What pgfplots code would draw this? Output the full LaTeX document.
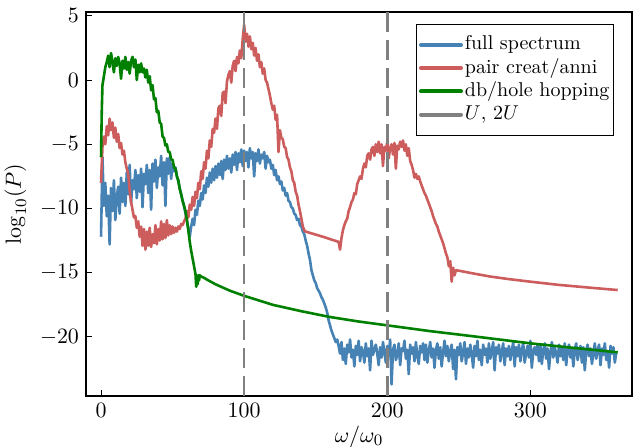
\documentclass[border=0pt]{standalone}
\usepackage{pgfplots}
\pgfplotsset{compat=1.18}

\definecolor{cfull}{RGB}{70,130,180}
\definecolor{cpair}{RGB}{205,92,92}
\definecolor{chop}{RGB}{0,128,0}
\definecolor{cU}{RGB}{128,128,128}

\begin{document}
\begin{tikzpicture}
\begin{axis}[
    scale only axis,
    width=273pt, height=192pt,
    xmin=-10.5, xmax=371,
    ymin=-24.6, ymax=5.3,
    xtick={0,100,200,300},
    ytick={-20,-15,-10,-5,0,5},
    tick align=inside,
    tick pos=left,
    major tick length=3pt,
    tick style={black, line width=0.5pt},
    axis line style={line width=0.6pt},
    xlabel={$\omega/\omega_0$},
    ylabel={$\log_{10}(P)$},
    xlabel style={yshift=2.5pt},
    ticklabel style={font=\fontsize{11}{13}\selectfont},
    label style={font=\fontsize{11}{13}\selectfont},
    legend cell align=left,
    legend style={at={(0.967,0.969)}, anchor=north east, draw=black,
        line width=0.5pt, inner xsep=1pt, inner ysep=4.5pt,
        nodes={inner sep=1pt, text height=7.3pt, text depth=2.3pt},
        font=\normalsize},
    legend image code/.code={\draw[#1, solid, line width=2pt, line cap=round] (0pt,0pt) -- (20pt,0pt);},
    every axis plot/.append style={line join=round},
]

% full spectrum
\addplot[cfull, line width=1.3pt] coordinates {
(0,-12.2)(1,-6.0)(2,-9.8)(3,-8.0)(4,-10.6)(5,-9.0)(6,-12.8)(7,-8.4)(8,-10.2)(9,-7.8)
(10,-10.9)(11,-9.1)(12,-8.3)(13,-10.4)(14,-7.6)(15,-9.5)(16,-8.0)(17,-9.8)(18,-7.2)(19,-8.9)
(20,-6.6)(21,-9.6)(22,-7.8)(23,-8.5)(24,-7.0)(25,-9.2)(26,-7.4)(27,-8.7)(28,-6.9)(29,-9.9)
(30,-7.3)(31,-8.1)(32,-6.6)(33,-8.8)(34,-7.0)(35,-10.1)(36,-6.5)(37,-7.9)(38,-6.2)(39,-8.4)
(40,-6.8)(41,-7.5)(42,-5.9)(43,-8.2)(44,-6.4)(45,-9.8)(46,-6.1)(47,-7.3)(48,-6.0)(49,-7.7)
(50,-6.5)(51,-7.1)(52,-6.8)(53,-7.5)(54,-7.9)(55,-8.4)(56,-8.9)(57,-9.4)(58,-9.8)(59,-10.4)
(60,-10.9)(61,-11.6)(62,-12.2)(63,-11.4)(64,-10.8)(65,-11.3)(66,-10.1)(67,-10.5)(68,-9.4)(69,-9.8)
(70,-8.8)(71,-9.3)(72,-8.2)(73,-8.8)(74,-7.6)(75,-8.3)(76,-7.2)(77,-8.0)(78,-6.9)(79,-7.8)
(80,-6.7)(81,-7.6)(82,-6.5)(83,-7.4)(84,-6.3)(85,-7.7)(86,-6.2)(87,-7.0)(88,-5.9)(89,-6.9)
(90,-6.1)(91,-7.2)(92,-5.8)(93,-6.6)(94,-5.6)(95,-7.0)(96,-5.7)(97,-6.4)(98,-5.4)(99,-6.7)
(100,-5.5)(101,-6.3)(102,-5.6)(103,-6.8)(104,-5.3)(105,-6.1)(106,-5.6)(107,-7.5)(108,-5.7)(109,-6.3)
(110,-5.4)(111,-6.5)(112,-5.8)(113,-6.1)(114,-5.6)(115,-6.9)(116,-5.9)(117,-6.4)(118,-6.2)(119,-6.9)
(120,-6.6)(121,-7.4)(122,-7.0)(123,-7.8)(124,-7.5)(125,-8.1)(126,-7.9)(127,-8.6)(128,-8.4)(129,-9.0)
(130,-8.8)(131,-9.4)(132,-9.5)(133,-9.9)(134,-10.0)(135,-10.4)(136,-10.5)(137,-10.9)(138,-10.8)(139,-11.3)
(140,-11.4)(141,-11.8)(142,-12.0)(143,-12.5)(144,-12.9)(145,-13.5)(146,-14.0)(147,-14.8)(148,-15.2)(149,-15.6)
(150,-15.8)(151,-16.2)(152,-16.4)(153,-16.6)(154,-16.9)(155,-17.1)(156,-17.4)(157,-17.7)(158,-18.1)(159,-18.7)
(160,-19.1)(161,-19.5)(162,-19.8)(163,-20.1)(164,-20.4)(165,-20.2)(166,-20.7)
(167,-21.3)(168,-20.4)(169,-21.8)(170,-20.9)(171,-22.1)(172,-20.6)(173,-21.2)(174,-20.2)(175,-21.6)(176,-21.0)
(177,-22.3)(178,-20.7)(179,-21.4)(180,-20.3)(181,-21.9)(182,-20.8)(183,-21.1)(184,-22.0)(185,-20.5)(186,-21.5)
(187,-20.9)(188,-22.6)(189,-20.3)(190,-21.4)(191,-21.0)(192,-20.6)(193,-21.3)(194,-22.2)(195,-20.8)(196,-21.6)
(197,-20.4)(198,-21.2)(199,-22.0)(200,-20.7)(201,-21.5)(202,-20.2)(203,-23.7)(204,-21.0)(205,-20.6)(206,-21.8)
(207,-21.4)(208,-20.5)(209,-22.2)(210,-20.9)(211,-21.1)(212,-20.3)(213,-21.7)(214,-21.0)(215,-22.9)(216,-20.6)
(217,-21.3)(218,-20.8)(219,-21.9)(220,-20.4)(221,-21.5)(222,-22.1)(223,-20.7)(224,-21.2)(225,-20.5)(226,-21.8)
(227,-20.6)(228,-22.0)(229,-21.1)(230,-20.4)(231,-21.6)(232,-20.9)(233,-22.4)(234,-21.0)(235,-20.5)(236,-21.7)
(237,-20.8)(238,-22.3)(239,-21.2)(240,-20.3)(241,-21.5)(242,-20.7)(243,-21.9)(244,-21.1)(245,-20.6)(246,-22.5)
(247,-21.0)(248,-23.3)(249,-20.8)(250,-21.4)(251,-20.5)(252,-21.9)(253,-21.2)(254,-20.4)(255,-22.1)(256,-20.9)
(257,-21.6)(258,-20.6)(259,-21.3)(260,-22.4)(261,-20.7)(262,-21.5)(263,-20.3)(264,-21.8)(265,-21.0)(266,-22.2)
(267,-20.6)(268,-21.4)(269,-20.9)(270,-22.0)(271,-20.5)(272,-21.7)(273,-21.1)(274,-20.4)(275,-22.6)(276,-20.8)
(277,-21.3)(278,-20.6)(279,-21.9)(280,-21.2)(281,-20.5)(282,-22.2)(283,-20.9)(284,-21.5)(285,-20.7)(286,-21.8)
(287,-21.1)(288,-20.4)(289,-22.3)(290,-20.8)(291,-21.5)(292,-20.6)(293,-21.9)(294,-21.0)(295,-20.5)(296,-22.0)
(297,-21.3)(298,-20.7)(299,-21.6)(300,-20.3)(301,-22.4)(302,-21.1)(303,-20.8)(304,-21.4)(305,-20.6)(306,-21.9)
(307,-20.7)(308,-22.1)(309,-21.0)(310,-20.5)(311,-21.7)(312,-20.9)(313,-22.5)(314,-21.2)(315,-20.4)(316,-21.6)
(317,-20.8)(318,-21.3)(319,-22.0)(320,-20.6)(321,-21.5)(322,-20.9)(323,-21.8)(324,-20.5)(325,-22.2)(326,-21.1)
(327,-20.6)(328,-21.6)(329,-20.9)(330,-22.3)(331,-21.0)(332,-20.5)(333,-21.8)(334,-21.2)(335,-20.7)(336,-22.0)
(337,-20.8)(338,-22.6)(339,-21.1)(340,-20.6)(341,-21.5)(342,-20.9)(343,-22.1)(344,-21.3)(345,-20.5)(346,-21.7)
(347,-21.0)(348,-20.6)(349,-22.2)(350,-20.9)(351,-21.4)(352,-20.5)(353,-21.8)(354,-21.1)(355,-22.4)(356,-20.7)
(357,-21.3)(358,-20.8)(359,-22.0)(360,-21.2)
};
\addlegendentry{full spectrum}

% pair creation / annihilation
\addplot[cpair, line width=1.3pt] coordinates {
(0,-8.0)(1,-5.2)(2,-4.4)(3,-5.0)(4,-3.6)(5,-4.3)(6,-3.0)(7,-3.9)(8,-3.3)(9,-4.5)
(10,-3.7)(11,-4.8)(12,-4.2)(13,-5.3)(14,-4.9)(15,-5.8)(16,-5.5)(17,-6.4)(18,-6.9)(19,-7.3)
(20,-8.6)(21,-9.5)(22,-10.1)(23,-10.7)(24,-10.6)(25,-11.5)(26,-11.0)(27,-12.2)(28,-11.4)(29,-12.9)
(30,-11.6)(31,-13.2)(32,-11.8)(33,-12.9)(34,-11.5)(35,-13.0)(36,-12.0)(37,-12.7)(38,-11.3)(39,-12.8)
(40,-11.6)(41,-12.5)(42,-11.0)(43,-12.4)(44,-11.2)(45,-12.3)(46,-10.9)(47,-12.1)(48,-11.3)(49,-12.0)
(50,-11.4)(51,-11.9)(52,-11.5)(53,-11.8)(54,-11.4)(55,-11.6)(56,-11.2)(57,-11.3)(58,-11.0)(59,-10.8)
(60,-10.2)(61,-10.7)(62,-9.7)(63,-10.1)(64,-9.1)(65,-9.8)(66,-8.7)(67,-9.2)(68,-8.0)(69,-8.5)
(70,-7.1)(71,-7.7)(72,-6.4)(73,-6.9)(74,-5.5)(75,-6.1)(76,-4.7)(77,-5.2)(78,-3.8)(79,-4.1)
(80,-3.0)(81,-3.8)(82,-2.2)(83,-2.0)(84,-2.8)(85,-1.0)(86,-0.9)(87,-1.8)(88,-0.1)(89,0.4)
(90,0.7)(91,-0.2)(92,1.1)(93,1.5)(94,0.7)(95,1.8)(96,1.3)(97,2.3)(98,1.7)(99,3.2)
(100,4.3)(101,3.0)(102,3.6)(103,2.6)(104,3.4)(105,2.4)(106,2.9)(107,1.9)(108,2.5)(109,1.5)
(110,2.0)(111,1.0)(112,1.4)(113,0.5)(114,0.9)(115,0.0)(116,-0.2)(117,-0.7)(118,-1.2)(119,-1.8)
(120,-2.3)(121,-2.0)(122,-3.1)(123,-2.7)(124,-5.6)(125,-3.9)(126,-4.5)(127,-4.6)(128,-5.2)(129,-5.3)
(130,-6.0)(131,-6.2)(132,-6.8)(133,-7.1)(134,-7.8)(135,-8.0)(136,-8.7)(137,-9.0)(138,-9.7)(139,-10.2)
(140,-10.8)(141,-11.4)(142,-11.7)(143,-11.8)(155,-12.2)(166,-12.6)(167,-13.2)(168,-12.3)(169,-11.7)
(170,-11.3)(171,-11.0)(172,-10.8)(173,-10.2)(174,-9.9)(175,-9.5)(176,-9.3)(177,-8.8)(178,-8.9)(179,-8.1)
(180,-7.8)(181,-7.5)(182,-7.7)(183,-6.9)(184,-6.5)(185,-6.8)(186,-5.9)(187,-5.7)(188,-6.2)(189,-5.4)
(190,-5.2)(191,-5.9)(192,-5.0)(193,-5.6)(194,-4.8)(195,-5.7)(196,-5.0)(197,-6.7)(198,-5.2)(199,-5.5)
(200,-4.8)(201,-6.1)(202,-5.3)(203,-5.0)(204,-5.8)(205,-4.9)(206,-6.9)(207,-5.1)(208,-5.4)(209,-4.8)
(210,-5.2)(211,-4.7)(212,-5.5)(213,-5.0)(214,-5.9)(215,-5.3)(216,-6.3)(217,-6.6)(218,-7.0)(219,-7.6)
(220,-7.3)(221,-7.7)(222,-7.5)(223,-7.9)(224,-8.2)(225,-8.5)(226,-8.8)(227,-9.0)(228,-9.3)(229,-9.6)
(230,-9.9)(231,-10.2)(232,-10.6)(233,-10.9)(234,-11.2)(235,-11.4)(236,-11.8)(237,-12.1)(238,-12.4)(239,-12.7)
(240,-13.1)(241,-13.5)(242,-13.8)(243,-14.5)(244,-14.1)(245,-15.7)(246,-14.6)(247,-15.2)(248,-14.8)
(255,-14.95)(262,-15.1)(272,-15.3)(285,-15.5)(300,-15.7)(320,-15.95)(340,-16.15)(361,-16.35)
};
\addlegendentry{pair creat/anni}

% doublon / hole hopping
\addplot[chop, line width=1.3pt] coordinates {
(0,-6.0)(0.5,-2.5)(1,-0.4)(2,0.3)(3,1.0)(4,1.4)(5,1.9)(6,1.0)(7,2.1)(8,1.4)(9,0.6)
(10,1.7)(11,1.1)(12,1.8)(13,1.3)(14,0.1)(15,1.5)(16,0.9)(17,1.8)(18,0.8)(19,1.4)
(20,0.5)(21,1.5)(22,1.8)(23,1.0)(24,1.6)(25,0.0)(26,1.2)(27,0.6)(28,1.3)(29,0.6)
(30,0.9)(31,0.2)(32,0.8)(33,-0.2)(34,0.3)(35,-0.8)(36,-0.4)(37,-1.5)(38,-1.4)(39,-2.5)
(40,-2.4)(41,-3.3)(42,-3.4)(43,-4.4)(44,-4.5)(45,-5.1)(46,-5.0)(47,-5.6)(48,-5.6)(49,-6.2)
(50,-6.2)(51,-6.8)(52,-6.9)(53,-7.5)(54,-7.8)(55,-8.5)(56,-8.9)(57,-9.4)(58,-9.8)(59,-10.2)
(60,-10.9)(61,-11.7)(62,-12.6)(63,-13.3)(64,-13.9)(65,-14.5)(66,-15.1)(66.5,-16.1)(67,-15.2)
(67.5,-15.9)(68,-15.2)(68.5,-15.6)(69,-15.2)(70,-15.3)(72,-15.4)(75,-15.6)(80,-15.9)(90,-16.4)
(100,-16.8)(120,-17.5)(140,-18.0)(160,-18.45)(180,-18.8)(200,-19.1)(230,-19.55)(260,-19.95)
(300,-20.5)(330,-20.85)(361,-21.2)
};
\addlegendentry{db/hole hopping}

% U and 2U
\addplot[cU, line width=1.3pt, dash pattern=on 10pt off 4pt] coordinates {(100,-24.6)(100,5.3)};
\addlegendentry{$U$, $2U$}
\addplot[cU, line width=1.3pt, dash pattern=on 10pt off 4pt, forget plot] coordinates {(200,-24.6)(200,5.3)};

\end{axis}
\pgfresetboundingbox
\path[use as bounding box] ([xshift=-43pt,yshift=-25.5pt]current axis.south west) rectangle ([xshift=1pt,yshift=6pt]current axis.north east);
\end{tikzpicture}
\end{document}
